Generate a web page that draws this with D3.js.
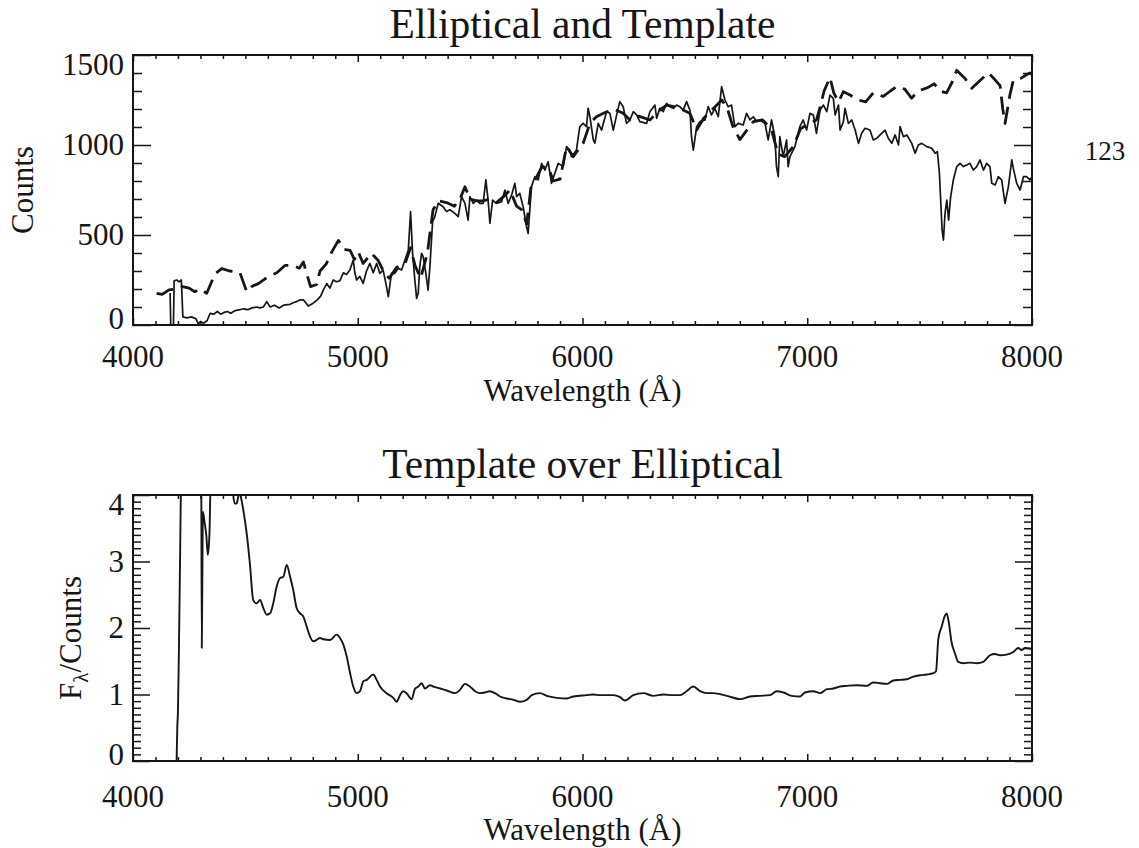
<!DOCTYPE html>
<html>
<head>
<meta charset="utf-8">
<script src="https://cdn.jsdelivr.net/npm/d3@7"></script>
<style>
  body { margin: 0; background: #fff; }
  svg { display: block; }
  text { font-family: "Liberation Serif", "Times New Roman", serif; fill: #161616; }
</style>
</head>
<body>
<svg id="chart" width="1139" height="848"></svg>
<script>
// ---- Elliptical galaxy spectrum (solid) ----
const ellipticalWave = [4165,4168,4180,4183,4195,4205,4215,4222,4240,4260,4280,4291,4300,4315,4330,4343,4360,4375,4390,4405,4420,4435,4455,4475,4491,4510,4530,4550,4565,4580,4595,4610,4630,4650,4670,4699,4715,4728,4745,4758,4780,4800,4820,4835,4847,4862,4876,4891,4905,4920,4936,4950,4965,4980,4987,4995,5009,5024,5039,5054,5069,5084,5098,5113,5128,5136,5150,5165,5180,5195,5210,5225,5235,5244,5254,5262,5269,5276,5284,5291,5303,5313,5321,5333,5343,5358,5380,5395,5410,5432,5447,5462,5477,5491,5499,5514,5529,5543,5558,5570,5580,5588,5600,5617,5640,5655,5669,5684,5699,5707,5721,5736,5751,5758,5773,5788,5803,5818,5833,5847,5862,5877,5892,5914,5929,5944,5951,5973,5988,6003,6018,6025,6033,6048,6055,6070,6085,6107,6122,6137,6152,6166,6181,6196,6211,6226,6241,6255,6285,6300,6322,6330,6344,6359,6374,6389,6404,6419,6433,6448,6463,6478,6485,6493,6508,6522,6545,6559,6574,6589,6604,6619,6634,6648,6663,6678,6693,6715,6730,6745,6760,6775,6789,6812,6826,6841,6856,6863,6871,6878,6893,6908,6915,6923,6945,6967,6982,6997,7012,7027,7041,7057,7072,7087,7101,7116,7124,7139,7146,7161,7168,7183,7198,7213,7228,7242,7257,7279,7294,7309,7324,7346,7361,7376,7391,7406,7413,7428,7443,7465,7480,7494,7509,7532,7554,7569,7579,7588,7600,7606,7613,7621,7629,7638,7650,7665,7680,7695,7710,7724,7739,7754,7769,7784,7798,7813,7821,7836,7850,7865,7880,7895,7910,7917,7932,7947,7962,7976,7991,8000];
const ellipticalCounts = [178,0,0,245,250,240,250,45,40,45,35,5,20,10,25,65,60,75,60,70,75,65,80,85,90,85,95,100,95,100,130,100,110,95,110,115,125,130,140,140,105,120,140,160,195,230,205,250,240,245,290,280,305,361,290,250,270,231,300,342,290,342,287,305,213,157,287,287,315,305,361,416,630,398,250,148,176,324,398,380,287,194,324,574,602,676,657,630,640,620,602,713,676,583,713,676,694,676,676,806,694,565,694,676,685,750,676,720,787,713,731,657,546,509,769,824,806,898,861,907,787,843,898,880,991,972,935,972,1102,1120,1102,1204,1157,1028,1010,1120,1083,1185,1176,1083,1167,1241,1213,1120,1139,1185,1167,1130,1120,1185,1222,1148,1204,1185,1231,1213,1204,1222,1213,1194,1241,1194,1046,972,1102,1130,1139,1213,1167,1204,1157,1324,1250,1213,1222,1102,1120,1111,1176,1139,1157,1130,1139,1120,1028,1139,1046,880,824,1046,935,1028,880,935,991,1102,1139,1083,1176,1167,1065,1194,1222,1185,1277,1259,1167,1222,1083,1130,1204,1120,1139,1083,1009,1065,1093,1083,1028,1037,1056,1083,1037,1009,1056,1000,1102,1046,1056,1009,954,1000,1009,991,982,954,963,843,528,472,620,694,583,712,806,880,898,880,889,898,861,880,917,861,898,880,787,778,824,806,676,769,917,870,787,750,824,824,806,824];

// ---- Template spectrum (dashed) ----
const templateWave = [4105,4130,4160,4190,4220,4250,4275,4300,4328,4365,4395,4430,4476,4506,4530,4558,4602,4640,4676,4713,4740,4758,4773,4790,4817,4832,4860,4884,4914,4940,4966,4985,5002,5024,5061,5090,5114,5140,5173,5210,5235,5255,5280,5310,5335,5360,5395,5430,5455,5477,5499,5530,5558,5590,5617,5655,5677,5707,5730,5752,5770,5795,5820,5850,5870,5900,5929,5959,5985,6003,6033,6062,6100,6140,6181,6211,6250,6300,6340,6374,6420,6478,6508,6540,6580,6620,6645,6670,6700,6730,6760,6800,6840,6870,6900,6938,6970,7010,7041,7055,7075,7101,7118,7139,7161,7190,7228,7260,7294,7338,7370,7398,7434,7464,7494,7538,7565,7590,7620,7645,7665,7702,7732,7770,7806,7830,7858,7870,7880,7902,7917,7950,7975,7991,8000];
const templateCounts = [176,170,195,200,213,205,185,200,176,285,313,300,290,185,215,230,269,290,331,331,315,350,285,213,225,300,340,405,470,420,415,365,407,342,398,360,300,260,320,340,430,330,260,400,640,690,680,660,700,768,700,690,690,700,680,720,750,660,640,560,760,820,880,870,800,810,991,935,980,1010,1120,1157,1180,1200,1176,1139,1160,1139,1190,1222,1210,1176,1083,1150,1200,1250,1200,1100,1030,1080,1130,1140,1090,950,935,991,1090,1120,1139,1200,1300,1375,1290,1240,1296,1278,1250,1240,1290,1270,1300,1325,1310,1260,1300,1320,1340,1300,1290,1350,1415,1370,1315,1360,1400,1370,1330,1200,1120,1280,1360,1370,1390,1400,1390];

// ---- Template over elliptical ratio ----
const ratioWave = [4194,4197,4200,4204,4210,4215,4230,4280,4303,4306,4309,4311,4318,4326,4333,4340,4346,4360,4420,4440,4446,4453,4461,4468,4476,4483,4491,4506,4520,4535,4550,4565,4580,4595,4610,4624,4639,4654,4669,4684,4699,4713,4728,4743,4758,4773,4788,4802,4817,4832,4847,4877,4906,4921,4936,4951,4966,4980,4995,5010,5025,5040,5069,5084,5099,5128,5158,5173,5188,5202,5217,5240,5255,5270,5284,5299,5321,5336,5366,5396,5433,5455,5477,5499,5522,5544,5566,5588,5611,5633,5663,5692,5722,5752,5774,5811,5841,5885,5930,5959,6018,6048,6078,6137,6167,6189,6226,6271,6315,6360,6404,6434,6463,6493,6523,6552,6582,6642,6701,6745,6790,6834,6864,6894,6931,6968,6990,7027,7057,7087,7116,7146,7176,7220,7264,7294,7324,7353,7383,7413,7442,7472,7502,7531,7561,7573,7583,7598,7613,7620,7628,7643,7657,7672,7695,7724,7754,7783,7798,7813,7835,7858,7887,7917,7939,7954,7969,7991,8000];
const ratioValue = [0,0.5,0.75,1.6,3.2,4.6,6,6,5,1.7,3.0,3.75,3.6,3.4,3.1,3.4,4.4,6,6,4.3,4.0,3.87,3.87,3.97,4.02,3.92,3.77,3.42,2.97,2.42,2.37,2.42,2.30,2.2,2.22,2.37,2.62,2.75,2.77,2.95,2.77,2.57,2.30,2.22,2.17,2.02,1.87,1.80,1.82,1.85,1.83,1.82,1.90,1.85,1.75,1.57,1.32,1.12,1.02,1.05,1.20,1.22,1.30,1.22,1.12,1.02,0.95,0.89,0.99,1.05,1.02,0.93,1.09,1.12,1.17,1.09,1.14,1.12,1.09,1.06,1.02,1.07,1.16,1.12,1.05,1.02,1.03,1.05,1.02,0.97,0.94,0.92,0.89,0.92,0.99,1.02,0.98,0.95,0.94,0.97,0.99,1.00,0.99,0.99,0.96,0.91,0.99,1.02,0.98,1.00,0.99,0.99,1.05,1.12,1.05,1.02,1.02,0.98,0.93,0.97,0.98,0.99,1.05,1.03,0.98,0.97,1.03,1.05,1.02,1.08,1.09,1.12,1.13,1.14,1.13,1.18,1.17,1.16,1.21,1.22,1.23,1.27,1.29,1.30,1.32,1.35,1.83,2.02,2.19,2.22,2.12,1.77,1.62,1.49,1.47,1.48,1.47,1.49,1.54,1.59,1.61,1.59,1.60,1.64,1.70,1.67,1.70,1.69,1.68];

// ---- Axis ranges and tick labels ----
const wavelengthRange = [4000, 8000];
const wavelengthTicks = [4000, 5000, 6000, 7000, 8000];
const countsRange = [0, 1500];
const countsTicks = [0, 500, 1000, 1500];
const ratioRange = [0, 4];
const ratioTicks = [0, 1, 2, 3, 4];

const svg = d3.select("#chart");
const ink = "#161616";
const plotLeft = 133, plotRight = 1032;

function zip(xs, ys) { return xs.map((v, i) => [v, ys[i]]); }

// Boxed panel with inward ticks on all four sides.
function panel(opts) {
  const g = svg.append("g");
  const x = d3.scaleLinear().domain(wavelengthRange).range([plotLeft, plotRight]);
  const y = d3.scaleLinear().domain(opts.yRange).range([opts.bottom, opts.top]);
  const w = plotRight - plotLeft, h = opts.bottom - opts.top;

  const xMinor = d3.range(wavelengthRange[0], wavelengthRange[1] + 1, 100).filter(v => !wavelengthTicks.includes(v));
  const yMinor = d3.range(0, opts.yMinorCount + 1).map(i => opts.yRange[0] + i * (opts.yRange[1] - opts.yRange[0]) / opts.yMinorCount)
                   .filter(v => !opts.yTicks.some(t => Math.abs(t - v) < 1e-9));

  function axisGroup(axis, tx, ty) {
    g.append("g")
      .attr("transform", `translate(${tx},${ty})`)
      .attr("color", ink)
      .call(axis)
      .call(s => s.select(".domain").remove())
      .call(s => s.selectAll("line").attr("stroke-width", 1.5));
  }
  axisGroup(d3.axisBottom(x).tickValues(xMinor).tickSize(-opts.xMinorLen).tickFormat(""), 0, opts.bottom);
  axisGroup(d3.axisBottom(x).tickValues(wavelengthTicks).tickSize(-opts.xMajorLen).tickFormat(""), 0, opts.bottom);
  axisGroup(d3.axisTop(x).tickValues(xMinor).tickSize(-opts.xMinorLen).tickFormat(""), 0, opts.top);
  axisGroup(d3.axisTop(x).tickValues(wavelengthTicks).tickSize(-opts.xMajorLen).tickFormat(""), 0, opts.top);
  axisGroup(d3.axisLeft(y).tickValues(yMinor).tickSize(-opts.yMinorLen).tickFormat(""), plotLeft, 0);
  axisGroup(d3.axisLeft(y).tickValues(opts.yTicks).tickSize(-opts.yMajorLen).tickFormat(""), plotLeft, 0);
  axisGroup(d3.axisRight(y).tickValues(yMinor).tickSize(-opts.yMinorLen).tickFormat(""), plotRight, 0);
  axisGroup(d3.axisRight(y).tickValues(opts.yTicks).tickSize(-opts.yMajorLen).tickFormat(""), plotRight, 0);

  g.append("rect")
    .attr("x", plotLeft).attr("y", opts.top).attr("width", w).attr("height", h)
    .attr("fill", "none").attr("stroke", ink).attr("stroke-width", 2);

  const clipId = "clip" + opts.id;
  svg.append("clipPath").attr("id", clipId)
    .append("rect").attr("x", plotLeft).attr("y", opts.top).attr("width", w).attr("height", h);

  g.selectAll(null).data(wavelengthTicks).join("text")
    .attr("x", d => x(d)).attr("y", opts.bottom + opts.xLabelGap)
    .attr("text-anchor", "middle").attr("font-size", 31)
    .text(d => d);

  // y tick labels; the end labels sit just inside the frame
  const yMax = d3.max(opts.yTicks), yMin = d3.min(opts.yTicks);
  g.selectAll(null).data(opts.yTicks).join("text")
    .attr("x", plotLeft - 9)
    .attr("y", d => y(d) + 10 + (d === yMax ? 10 : d === yMin ? -6 : 0))
    .attr("text-anchor", "end").attr("font-size", 31)
    .text(d => d);

  g.append("text")
    .attr("x", (plotLeft + plotRight) / 2).attr("y", opts.top - 17)
    .attr("text-anchor", "middle").attr("font-size", 41.5)
    .text(opts.title);

  g.append("text")
    .attr("x", (plotLeft + plotRight) / 2).attr("y", opts.bottom + opts.xTitleGap)
    .attr("text-anchor", "middle").attr("font-size", 31)
    .text("Wavelength (Å)");

  return { g, x, y, clip: `url(#${clipId})` };
}

// ---------- Top panel: elliptical and template ----------
const p1 = panel({
  id: 1, top: 55, bottom: 325, yRange: countsRange, yTicks: countsTicks, yMinorCount: 15,
  xMinorLen: 4, xMajorLen: 7, yMinorLen: 9, yMajorLen: 18,
  xLabelGap: 42, xTitleGap: 76, title: "Elliptical and Template"
});
const line1 = d3.line().x(d => p1.x(d[0])).y(d => p1.y(d[1]));
p1.g.append("path")
  .datum(zip(templateWave, templateCounts))
  .attr("clip-path", p1.clip)
  .attr("d", line1)
  .attr("fill", "none").attr("stroke", ink).attr("stroke-width", 2.8)
  .attr("stroke-dasharray", "18,8").attr("stroke-linejoin", "round");
p1.g.append("path")
  .datum(zip(ellipticalWave, ellipticalCounts))
  .attr("clip-path", p1.clip)
  .attr("d", line1)
  .attr("fill", "none").attr("stroke", ink).attr("stroke-width", 1.7)
  .attr("stroke-linejoin", "round");

svg.append("text")
  .attr("transform", "translate(33,190) rotate(-90)")
  .attr("text-anchor", "middle").attr("font-size", 31)
  .text("Counts");

// ---------- Bottom panel: ratio ----------
const p2 = panel({
  id: 2, top: 495, bottom: 761, yRange: ratioRange, yTicks: ratioTicks, yMinorCount: 40,
  xMinorLen: 4, xMajorLen: 7, yMinorLen: 8, yMajorLen: 17,
  xLabelGap: 46, xTitleGap: 79, title: "Template over Elliptical"
});
const line2 = d3.line().x(d => p2.x(d[0])).y(d => p2.y(d[1])).curve(d3.curveMonotoneX);
p2.g.append("path")
  .datum(zip(ratioWave, ratioValue))
  .attr("clip-path", p2.clip)
  .attr("d", line2)
  .attr("fill", "none").attr("stroke", ink).attr("stroke-width", 1.9)
  .attr("stroke-linejoin", "round");

const yl2 = svg.append("text")
  .attr("transform", "translate(81,638) rotate(-90)")
  .attr("text-anchor", "middle").attr("font-size", 31);
yl2.append("tspan").text("F");
yl2.append("tspan").attr("font-size", 21).attr("dy", 7).text("λ");
yl2.append("tspan").attr("dy", -7).text("/Counts");

// page number
svg.append("text")
  .attr("x", 1105).attr("y", 160)
  .attr("text-anchor", "middle").attr("font-size", 27)
  .text("123");
</script>
</body>
</html>
